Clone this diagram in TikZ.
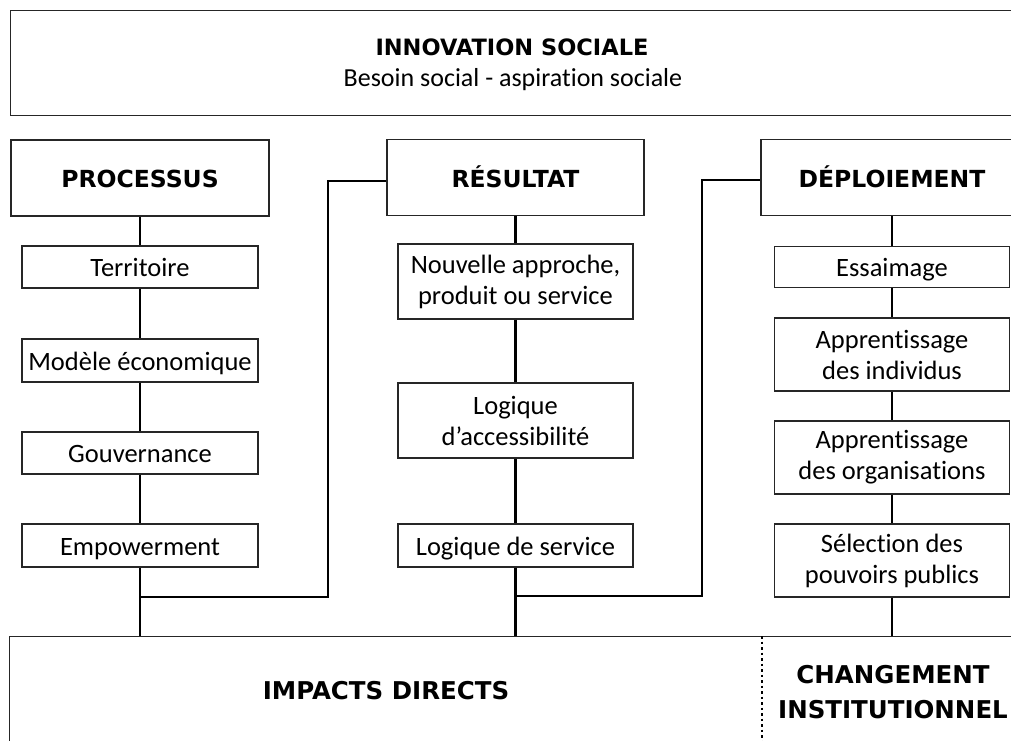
\documentclass[tikz,border=0pt]{standalone}
\usepackage{fontspec}
\setmainfont{Carlito}[Ligatures=NoCommon]
\newfontfamily\headfont{DejaVu Sans}
\tikzset{
  box/.style={draw=black!85, line width=1.4pt, fill=white, inner sep=0pt, align=center,
    font=\fontsize{26.5}{31}\selectfont},
  single/.style={text height=22pt, text depth=3pt},
  headbox/.style={box, single, minimum height=76pt, font=\headfont\bfseries\fontsize{23.5}{26}\selectfont},
  pbox/.style={box, single, minimum width=236pt},
  conn/.style={line width=2.5pt, black},
  heading/.style={inner sep=0pt, align=center, font=\headfont\bfseries\fontsize{24.5}{35}\selectfont},
}
\begin{document}
\begin{tikzpicture}[x=1pt,y=-1pt]
\useasboundingbox (0,0) rectangle (1011,740);
% top box
\node[box, minimum width=1006pt, minimum height=105pt, anchor=north west] (top) at (10,10) {};
\node[heading, font=\headfont\bfseries\fontsize{22.5}{24}\selectfont] (topt) at (512,47) {INNOVATION SOCIALE};
\node[inner sep=0pt, font=\fontsize{26}{28}\selectfont] (tops) at (513,80) {Besoin social - aspiration sociale};
% bottom box
\node[box, minimum width=1015pt, minimum height=140pt, anchor=north west] (bot) at (9,636) {};
\coordinate (dtop) at (762,636);
\coordinate (dbot) at (762,745);
\draw[line width=1.4pt, dash pattern=on 2.5pt off 3pt] (dtop) -- (dbot);
\node[heading] (imp) at (386,691) {IMPACTS DIRECTS};
\node[heading] (chg) at (893,692) {CHANGEMENT\\INSTITUTIONNEL};
% headers
\node[headbox, minimum width=258pt] (proc) at (140,178) {PROCESSUS};
\node[headbox, minimum width=257pt] (res) at (515.5,177.5) {RÉSULTAT};
\node[headbox, minimum width=262pt] (dep) at (892,177.5) {DÉPLOIEMENT};
% processus column
\node[pbox, minimum height=42pt] (terr) at (140,267) {Territoire};
\node[pbox, minimum height=43pt] (mod) at (140,360.5) {Modèle économique};
\node[pbox, minimum height=42pt] (gouv) at (140,453) {Gouvernance};
\node[pbox, minimum height=43pt] (emp) at (140,545.5) {Empowerment};
% resultat column
\node[box, minimum width=235pt, minimum height=75pt] (nouv) at (515.5,281.5) {Nouvelle approche,\\produit ou service};
\node[box, minimum width=235pt, minimum height=75pt] (acc) at (515.5,420.5) {Logique\\d’accessibilité};
\node[box, single, minimum width=235pt, minimum height=43pt] (serv) at (515.5,545.5) {Logique de service};
% deploiement column
\node[box, single, minimum width=235pt, minimum height=41pt] (ess) at (892,267) {Essaimage};
\node[box, minimum width=235pt, minimum height=73pt] (appi) at (892,354.5) {Apprentissage\\des individus};
\node[box, minimum width=235pt, minimum height=73pt] (appo) at (892,457.5) {Apprentissage\\des organisations};
\node[box, minimum width=235pt, minimum height=73pt] (sel) at (892,560.5) {Sélection des\\pouvoirs publics};
% connectors processus
\draw[conn] (proc.south) -- (terr.north);
\draw[conn] (terr.south) -- (mod.north);
\draw[conn] (mod.south) -- (gouv.north);
\draw[conn] (gouv.south) -- (emp.north);
\draw[conn] (emp.south) -- (emp.south |- bot.north);
% connectors resultat
\draw[conn] (res.south) -- (nouv.north);
\draw[conn] (nouv.south) -- (acc.north);
\draw[conn] (acc.south) -- (serv.north);
\draw[conn] (serv.south) -- (serv.south |- bot.north);
% connectors deploiement
\draw[conn] (dep.south) -- (ess.north);
\draw[conn] (ess.south) -- (appi.north);
\draw[conn] (appi.south) -- (appo.north);
\draw[conn] (appo.south) -- (sel.north);
\draw[conn] (sel.south) -- (sel.south |- bot.north);
% cross connectors
\coordinate (pj) at (140,597);
\coordinate (rj) at (515.5,596);
\draw[conn] (pj) -| (328,181) -- (res.west |- 0,181);
\draw[conn] (rj) -| (702,180) -- (dep.west |- 0,180);
\end{tikzpicture}
\end{document}
